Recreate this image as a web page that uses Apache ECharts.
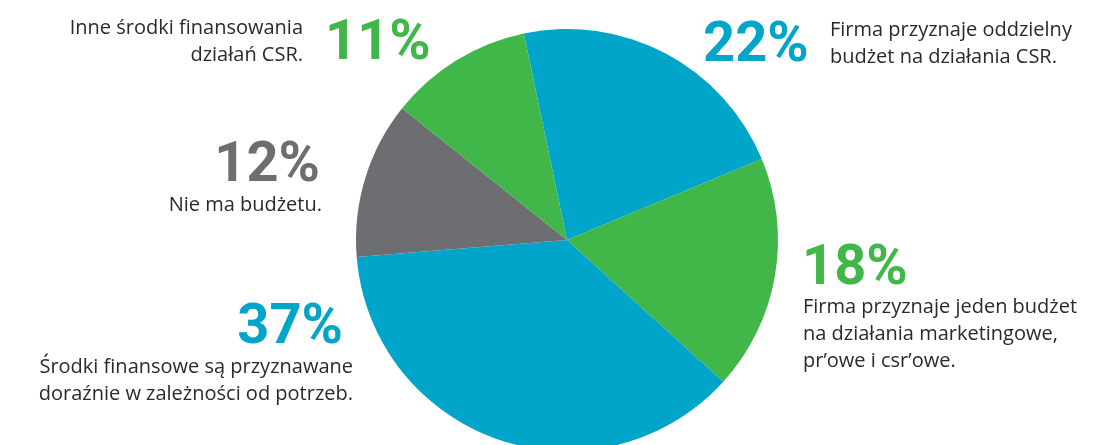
<!DOCTYPE html>
<html>
<head>
<meta charset="utf-8">
<script src="https://cdn.jsdelivr.net/npm/echarts@6/dist/echarts.min.js"></script>
<style>html,body{margin:0;padding:0;background:#fff}#c{width:1094px;height:445px}</style>
</head>
<body>
<div id="c"></div>
<script>
const categories = [
  'Firma przyznaje oddzielny\nbudżet na działania CSR.',
  'Firma przyznaje jeden budżet\nna działania marketingowe,\npr\u02bcowe i csr\u02bcowe.',
  'Środki finansowe są przyznawane\ndoraźnie w zależności od potrzeb.',
  'Nie ma budżetu.',
  'Inne środki finansowania\ndziałań CSR.'
];
const values = [22, 18, 37, 12, 11];
const colors = ['#00a5c9', '#41b649', '#00a5c9', '#6d6e71', '#41b649'];

const TEXT = '#2b2a29';
const PFONT = 'Roboto, "DejaVu Sans", sans-serif';
const BFONT = '"Open Sans", Roboto, sans-serif';

// label layout (cap centres): [pctX, pctY, pctAlign, descX, descY, descAlign]
const layout = [
  [703, 41, 'left', 830, 28, 'left'],
  [802, 264, 'left', 803, 305.5, 'left'],
  [343, 322.5, 'right', 353, 365, 'right'],
  [320, 161, 'right', 322, 203, 'right'],
  [325, 38.5, 'left', 303, 26, 'right']
];

const graphics = [];
values.forEach((v, i) => {
  const L = layout[i];
  graphics.push({
    type: 'text', x: L[0], y: L[1] + 6,
    style: { text: v + '%', fill: colors[i], font: 'bold 56px ' + PFONT, textAlign: L[2], textVerticalAlign: 'middle' }
  });
  graphics.push({
    type: 'text', x: L[3], y: L[4] - 11.5,
    style: { text: categories[i], fill: TEXT, font: '20px ' + BFONT, textAlign: L[5], textVerticalAlign: 'top', lineHeight: 27 }
  });
});

const chart = echarts.init(document.getElementById('c'));
chart.setOption({
  animation: false,
  series: [{
    type: 'pie',
    center: [567, 240],
    radius: 211,
    startAngle: 101.8,
    clockwise: true,
    label: { show: false },
    labelLine: { show: false },
    itemStyle: { borderWidth: 0 },
    emphasis: { disabled: true },
    data: values.map((v, i) => ({ value: v, name: categories[i], itemStyle: { color: colors[i] } }))
  }],
  graphic: graphics
});
</script>
</body>
</html>
